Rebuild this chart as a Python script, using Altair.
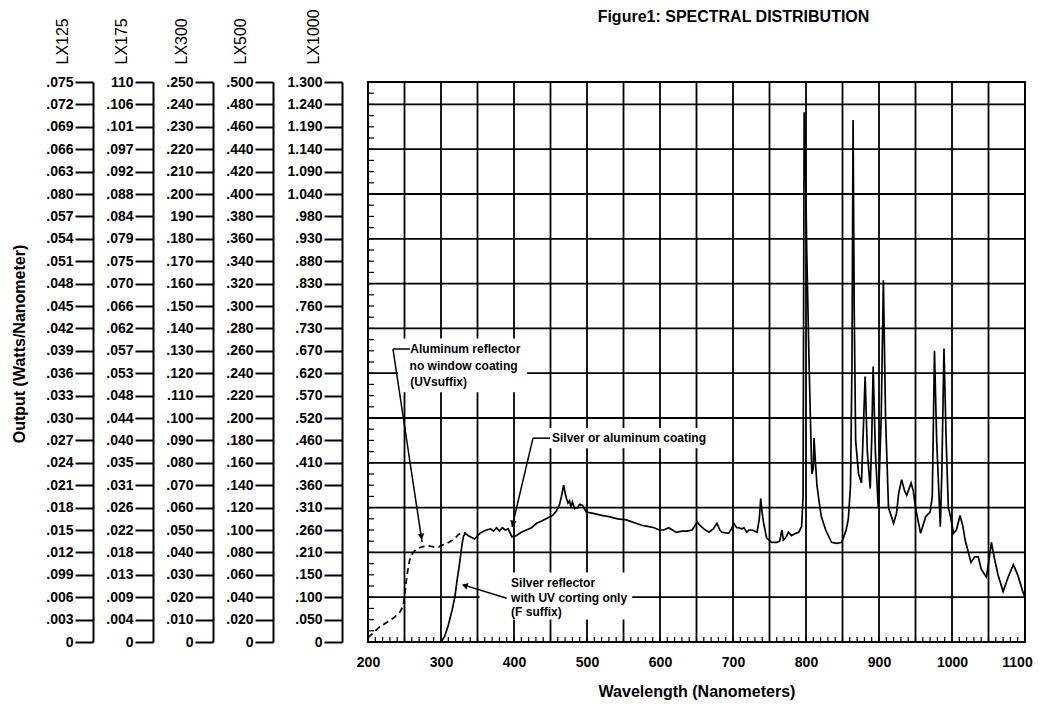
import json
import altair as alt
import pandas as pd

FONT = "Liberation Sans"

# ---- left output scales (tick labels, bottom to top, as printed) ----
lx125 = ["0", ".003", ".006", ".099", ".012", ".015", ".018", ".021", ".024", ".027",
         ".030", ".033", ".036", ".039", ".042", ".045", ".048", ".051", ".054", ".057",
         ".080", ".063", ".066", ".069", ".072", ".075"]
lx175 = ["0", ".004", ".009", ".013", ".018", ".022", ".026", ".031", ".035", ".040",
         ".044", ".048", ".053", ".057", ".062", ".066", ".070", ".075", ".079", ".084",
         ".088", ".092", ".097", ".101", ".106", "110"]
lx300 = ["0", ".010", ".020", ".030", ".040", ".050", ".060", ".070", ".080", ".090",
         ".100", ".110", ".120", ".130", ".140", ".150", ".160", ".170", ".180", "190",
         ".200", ".210", ".220", ".230", ".240", ".250"]
lx500 = ["0", ".020", ".040", ".060", ".080", ".100", ".120", ".140", ".160", ".180",
         ".200", ".220", ".240", ".260", ".280", ".300", ".320", ".340", ".360", ".380",
         ".400", ".420", ".440", ".460", ".480", ".500"]
lx1000 = ["0", ".050", ".100", ".150", ".210", ".260", ".310", ".360", ".410", ".460",
          ".520", ".570", ".620", ".670", ".730", ".760", ".830", ".880", ".930", ".980",
          "1.040", "1.090", "1.140", "1.190", "1.240", "1.300"]
scale_names = ["LX125", "LX175", "LX300", "LX500", "LX1000"]
y_title = "Output (Watts/Nanometer)"

# ---- spectral curves (output expressed on the LX500 scale) ----
main_wl = [334, 337, 346, 353, 362, 368, 372, 376, 380, 384, 388, 392, 397, 403, 410, 417,
           424, 431, 438, 444, 453, 458, 462, 465, 468, 470, 472, 474, 476, 478, 480, 483,
           487, 490, 494, 499, 507, 520, 530, 542, 554, 567, 576, 585, 592, 599, 605, 612,
           617, 622, 630, 637, 644, 648, 651, 655, 660, 667, 673, 678, 682, 685, 694, 698,
           701, 705, 708, 712, 715, 719, 722, 726, 733, 736, 738, 740, 742, 746, 753, 760,
           764, 767, 769, 772, 776, 780, 786, 790, 794, 796, 797.5, 799, 801, 804, 806, 808,
           810, 811, 813, 815, 818, 821, 827, 835, 842, 849, 855, 858, 861, 863, 864.5, 866,
           868, 872, 876, 878, 881, 884, 888, 890, 892, 895, 899, 903, 906, 909, 913, 920,
           924, 927, 931, 935, 938, 944, 947, 950, 957, 964, 970, 973, 976, 979, 984, 986,
           989, 992, 995, 998, 1002, 1006, 1011, 1015, 1018, 1026, 1031, 1036, 1040, 1047,
           1050, 1054, 1058, 1063, 1070, 1077, 1084, 1090, 1097, 1100]
main_out = [0.097, 0.095, 0.092, 0.097, 0.100, 0.101, 0.099, 0.102, 0.099, 0.102, 0.100,
            0.101, 0.094, 0.095, 0.098, 0.100, 0.102, 0.106, 0.108, 0.110, 0.113, 0.117,
            0.122, 0.130, 0.140, 0.133, 0.128, 0.124, 0.126, 0.121, 0.125, 0.119, 0.120,
            0.123, 0.122, 0.116, 0.115, 0.113, 0.112, 0.110, 0.109, 0.106, 0.104, 0.103,
            0.102, 0.100, 0.100, 0.102, 0.100, 0.098, 0.099, 0.099, 0.100, 0.104, 0.107,
            0.104, 0.101, 0.098, 0.101, 0.106, 0.100, 0.098, 0.097, 0.101, 0.106, 0.102,
            0.102, 0.101, 0.102, 0.098, 0.100, 0.100, 0.098, 0.110, 0.128, 0.115, 0.106,
            0.093, 0.089, 0.089, 0.090, 0.100, 0.091, 0.093, 0.098, 0.095, 0.097, 0.098,
            0.103, 0.130, 0.473, 0.440, 0.350, 0.255, 0.200, 0.150, 0.155, 0.182, 0.160,
            0.140, 0.125, 0.112, 0.100, 0.089, 0.088, 0.089, 0.100, 0.110, 0.140, 0.250,
            0.466, 0.300, 0.180, 0.150, 0.142, 0.180, 0.237, 0.170, 0.137, 0.180, 0.246,
            0.170, 0.120, 0.200, 0.323, 0.200, 0.120, 0.106, 0.115, 0.133, 0.145, 0.135,
            0.131, 0.142, 0.135, 0.120, 0.097, 0.112, 0.116, 0.130, 0.260, 0.180, 0.103,
            0.150, 0.262, 0.180, 0.120, 0.112, 0.097, 0.100, 0.113, 0.103, 0.091, 0.071,
            0.076, 0.076, 0.065, 0.058, 0.070, 0.089, 0.075, 0.060, 0.045, 0.058, 0.069,
            0.060, 0.045, 0.040]

uv_wl = [200, 207, 215, 227, 236, 244, 248, 250, 252, 254, 257, 261, 266, 274, 282, 290,
         297, 304, 311, 318, 324, 329, 334]
uv_out = [0.004, 0.008, 0.013, 0.018, 0.022, 0.027, 0.032, 0.040, 0.052, 0.062, 0.073,
          0.079, 0.083, 0.085, 0.086, 0.085, 0.085, 0.087, 0.089, 0.092, 0.096, 0.098, 0.097]

f_wl = [300, 305, 310, 315, 319, 322, 325, 327, 329, 331, 334]
f_out = [0.000, 0.005, 0.015, 0.028, 0.040, 0.055, 0.068, 0.078, 0.088, 0.095, 0.097]

# ---- annotations ----
note_text = ["Aluminum reflector", "no window coating", " (UVsuffix)",
             "Silver or aluminum coating",
             "Silver reflector", "with UV corting only", " (F suffix)"]
note_wl = [258, 257, 258, 452, 396, 396, 396]
note_out = [0.2616, 0.2464, 0.232, 0.182, 0.0527, 0.0396, 0.027]

box_wl = [241, 442, 353]
box_wl2 = [418, 671, 562]
box_out = [0.223, 0.173, 0.020]
box_out2 = [0.271, 0.191, 0.062]

lead_wl = [234.2, 234.2, 426, 426, 390]
lead_out = [0.2616, 0.2616, 0.182, 0.182, 0.039]
lead_wl2 = [257.5, 274, 449.3, 397.3, 330.5]
lead_out2 = [0.2616, 0.0893, 0.182, 0.1027, 0.051]

head_wl = [273.2, 398.3, 332.5]
head_out = [0.094, 0.1057, 0.0505]
head_angle = [351.5, 13.3, 105.6]

grid_wl = list(range(200, 1101, 50))
grid_out = [round(0.04 * i, 2) for i in range(13)]
minor_wl = list(range(200, 1101, 10))
minor_out = [round(0.01 * i, 2) for i in range(51)]

PLOT_H = 560
PLOT_W = 657


def axis_panel(name, labels, width, title_x, with_ylabel=False):
    df = pd.DataFrame({"step": list(range(len(labels)))})
    expr = json.dumps(labels) + "[datum.value]"
    pts = alt.Chart(df).mark_point(opacity=0).encode(
        y=alt.Y("step:Q",
                scale=alt.Scale(domain=[0, len(labels) - 1], nice=False, zero=True),
                axis=alt.Axis(values=list(range(len(labels))), labelExpr=expr,
                              title=name, titleAngle=270, titleX=title_x, titleY=-18,
                              titleAlign="left", titleBaseline="middle",
                              titleFontSize=16, titleFontWeight="normal", titleFont=FONT,
                              titleColor="black",
                              tickSize=18, tickWidth=2, tickColor="black",
                              domainWidth=2, domainColor="black",
                              labelFont=FONT, labelFontSize=14, labelFontWeight="bold",
                              labelColor="black", labelPadding=2, labelOverlap=False,
                              labelFlush=False, grid=False))
    )
    layers = [pts]
    if with_ylabel:
        t = alt.Chart(pd.DataFrame({"t": [y_title]})).mark_text(
            angle=270, fontSize=16, fontWeight="bold", font=FONT, color="black",
            align="center", baseline="middle"
        ).encode(text="t:N", x=alt.value(-73), y=alt.value(262))
        layers.append(t)
    return alt.layer(*layers).properties(
        width=width, height=PLOT_H,
        view=alt.ViewBackground(strokeOpacity=0))


panels = [
    axis_panel(scale_names[0], lx125, 60, -31, with_ylabel=True),
    axis_panel(scale_names[1], lx175, 60, -32),
    axis_panel(scale_names[2], lx300, 60, -32),
    axis_panel(scale_names[3], lx500, 69, -33),
    axis_panel(scale_names[4], lx1000, 26, -29),
]

xs = alt.Scale(domain=[200, 1100], nice=False, zero=False)
ys = alt.Scale(domain=[0, 0.5], nice=False, zero=True)

x_axis = alt.Axis(values=list(range(200, 1101, 100)), format="d",
                  title="Wavelength (Nanometers)", titleFont=FONT, titleFontSize=16,
                  titleFontWeight="bold", titleColor="black", titlePadding=14,
                  labelFont=FONT, labelFontSize=14, labelFontWeight="bold",
                  labelColor="black", labelPadding=13, labelFlush=False,
                  labelOffset={"condition": {"test": "datum.value == 1100", "value": -8},
                               "value": 0},
                  labelOverlap=False, ticks=False, domain=False, grid=False)
y_axis = alt.Axis(labels=False, ticks=False, domain=False, title=None, grid=False)

main_df = pd.DataFrame({"wl": main_wl, "val": main_out})
uv_df = pd.DataFrame({"wl": uv_wl, "val": uv_out})
f_df = pd.DataFrame({"wl": f_wl, "val": f_out})

vgrid = alt.Chart(pd.DataFrame({"wl": grid_wl})).mark_rule(
    color="black", strokeWidth=1.8).encode(
    x=alt.X("wl:Q", scale=xs, axis=x_axis))
hgrid = alt.Chart(pd.DataFrame({"val": grid_out})).mark_rule(
    color="black", strokeWidth=1.8).encode(
    y=alt.Y("val:Q", scale=ys, axis=y_axis))

base_line = alt.Chart(main_df).mark_line(color="black", strokeWidth=1.7).encode(
    x=alt.X("wl:Q", scale=xs),
    y=alt.Y("val:Q", scale=ys),
)
uv_line = alt.Chart(uv_df).mark_line(color="black", strokeWidth=1.7,
                                     strokeDash=[6, 4]).encode(
    x=alt.X("wl:Q", scale=xs), y=alt.Y("val:Q", scale=ys))
f_line = alt.Chart(f_df).mark_line(color="black", strokeWidth=1.7).encode(
    x=alt.X("wl:Q", scale=xs), y=alt.Y("val:Q", scale=ys))

minor_x = alt.Chart(pd.DataFrame({"wl": minor_wl})).mark_rule(
    color="black", strokeWidth=1.2).encode(
    x=alt.X("wl:Q", scale=xs), y=alt.value(PLOT_H), y2=alt.value(PLOT_H - 5))
minor_y = alt.Chart(pd.DataFrame({"val": minor_out})).mark_rule(
    color="black", strokeWidth=1.2).encode(
    y=alt.Y("val:Q", scale=ys), x=alt.value(0), x2=alt.value(6))

boxes = alt.Chart(pd.DataFrame({"wl": box_wl, "wl2": box_wl2,
                                "val": box_out, "val2": box_out2})).mark_rect(
    color="white").encode(
    x=alt.X("wl:Q", scale=xs), x2="wl2:Q",
    y=alt.Y("val:Q", scale=ys), y2="val2:Q")

leads = alt.Chart(pd.DataFrame({"wl": lead_wl, "wl2": lead_wl2,
                                "val": lead_out, "val2": lead_out2})).mark_rule(
    color="black", strokeWidth=1.5).encode(
    x=alt.X("wl:Q", scale=xs), x2="wl2:Q",
    y=alt.Y("val:Q", scale=ys), y2="val2:Q")

heads = alt.Chart(pd.DataFrame({"wl": head_wl, "val": head_out,
                                "ang": head_angle})).mark_point(
    shape="triangle-down", filled=True, color="black", size=45, opacity=1).encode(
    x=alt.X("wl:Q", scale=xs), y=alt.Y("val:Q", scale=ys),
    angle=alt.Angle("ang:Q", scale=None))

notes = alt.Chart(pd.DataFrame({"wl": note_wl, "val": note_out,
                                "t": note_text})).mark_text(
    align="left", baseline="middle", font=FONT, fontSize=12, fontWeight="bold",
    color="black").encode(
    x=alt.X("wl:Q", scale=xs), y=alt.Y("val:Q", scale=ys), text="t:N")

main = alt.layer(vgrid, hgrid, boxes, minor_x, minor_y, base_line, uv_line, f_line,
                 leads, heads, notes).properties(
    width=PLOT_W, height=PLOT_H,
    title=alt.TitleParams("Figure1: SPECTRAL DISTRIBUTION", font=FONT, fontSize=16,
                          fontWeight="bold", color="black", anchor="middle",
                          offset=56, dx=37),
    view=alt.ViewBackground(stroke="black", strokeWidth=2))

chart = alt.hconcat(*panels, main, spacing=0, bounds="flush").properties(
    padding={"left": 4, "top": 0, "right": 0, "bottom": 0},
    background="white")

chart.save("out.html", embed_options={"renderer": "svg", "actions": False})
